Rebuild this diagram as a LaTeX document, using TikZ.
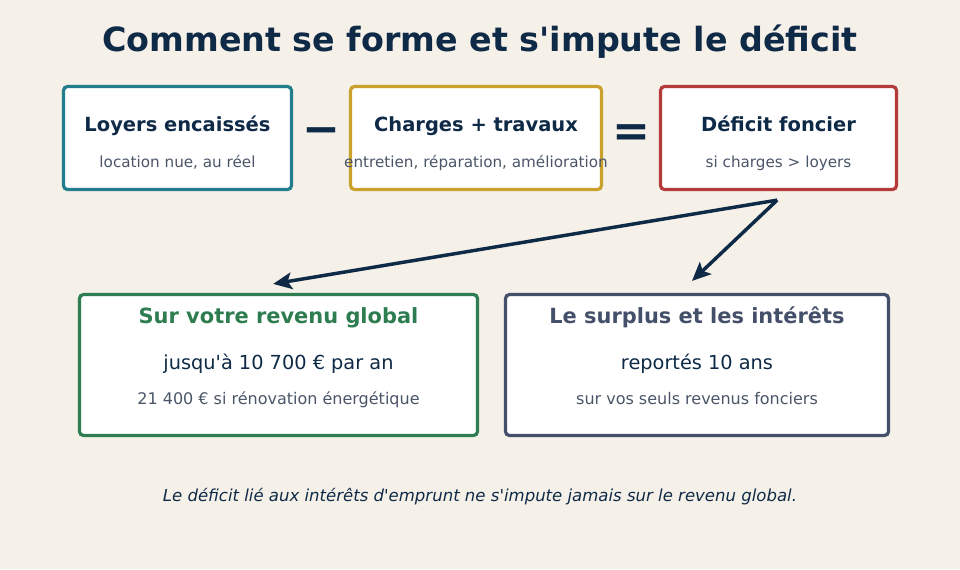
\documentclass[tikz,border=0pt]{standalone}
\usepackage{fontspec}
\setmainfont{DejaVu Sans}[ItalicFont={DejaVu Sans Oblique}]
\usetikzlibrary{arrows.meta}
\definecolor{fond}{HTML}{F5F0E8}
\definecolor{marine}{HTML}{0F2A47}
\definecolor{gris}{HTML}{4A5568}
\definecolor{sarcelle}{HTML}{237E8C}
\definecolor{ocre}{HTML}{C9A22E}
\definecolor{brique}{HTML}{B53B3B}
\definecolor{vert}{HTML}{2E7D50}
\definecolor{ardoise}{HTML}{44506A}
\begin{document}
\begin{tikzpicture}[x=0.75pt, y=-0.75pt,
		boite/.style={draw, rounded corners=3pt, line width=2.4pt, fill=white, inner sep=0pt},
		titre/.style={anchor=base, font=\fontsize{14.6}{17}\selectfont\bfseries, text=marine},
		detail/.style={anchor=base, font=\fontsize{11.4}{14}\selectfont, text=gris},
		fleche/.style={-{Stealth[length=14pt, width=12.5pt, inset=3pt]}, line width=2.6pt, draw=marine}]
			\fill[fond] (0,0) rectangle (960,569);
			\node[anchor=base, font=\fontsize{25}{30}\selectfont\bfseries, text=marine] (T) at (480,51) {Comment se forme et s\textquotesingle impute le déficit};
			% ligne du haut
			\node[boite, draw=sarcelle, minimum width=171pt, minimum height=77.25pt] (L) at (177.5,138) {};
			\node[boite, draw=ocre, minimum width=188.25pt, minimum height=77.25pt] (C) at (476,138) {};
			\node[boite, draw=brique, minimum width=177pt, minimum height=77.25pt] (D) at (778.5,138) {};
			\node[titre] (L1) at (177.5,131) {Loyers encaissés};
			\node[detail] (L2) at (177.5,167) {location nue, au réel};
			\node[titre] (C1) at (476,131) {Charges + travaux};
			\node[detail] (C2) at (476,167) {entretien, réparation, amélioration};
			\node[titre] (D1) at (778.5,131) {Déficit foncier};
			\node[detail] (D2) at (778.5,167) {si charges > loyers};
			\node[font=\fontsize{34}{40}\selectfont\bfseries, text=marine, inner sep=0pt] (moins) at (321,136) {−};
			\node[font=\fontsize{34}{40}\selectfont\bfseries, text=marine, inner sep=0pt] (egal) at (631,136) {=};
			% ligne du bas
			\node[boite, draw=vert, minimum width=298.5pt, minimum height=105.75pt] (G) at (278.5,365) {};
			\node[boite, draw=ardoise, minimum width=287.25pt, minimum height=105.75pt] (R) at (697,365) {};
			\node[titre, font=\fontsize{15.7}{19}\selectfont\bfseries, text=vert] (G1) at (278.5,323) {Sur votre revenu global};
			\node[anchor=base, font=\fontsize{14.5}{17}\selectfont, text=marine] (G2) at (278.5,369) {jusqu\textquotesingle à 10 700 € par an};
			\node[detail, font=\fontsize{12}{14}\selectfont] (G3) at (278.5,404) {21 400 € si rénovation énergétique};
			\node[titre, font=\fontsize{15.7}{19}\selectfont\bfseries, text=ardoise] (R1) at (697,323) {Le surplus et les intérêts};
			\node[anchor=base, font=\fontsize{14.5}{17}\selectfont, text=marine] (R2) at (697,369) {reportés 10 ans};
			\node[detail, font=\fontsize{12}{14}\selectfont] (R3) at (697,404) {sur vos seuls revenus fonciers};
			\node[anchor=base, font=\fontsize{12.4}{15}\selectfont\itshape, text=marine] (N) at (480,501) {Le déficit lié aux intérêts d\textquotesingle emprunt ne s\textquotesingle impute jamais sur le revenu global.};
			\draw[fleche] ([xshift=-1pt, yshift=-6.75pt]D.south) to ([xshift=-4pt, yshift=6.75pt]G.north);
			\draw[fleche] ([xshift=-1pt, yshift=-6.75pt]D.south) to ([xshift=-3.75pt, yshift=9pt]R.north);
		\end{tikzpicture}
\end{document}
